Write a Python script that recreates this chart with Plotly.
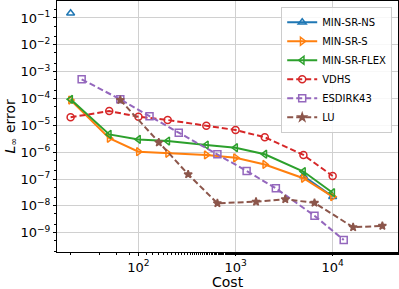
import numpy as np
import plotly.graph_objects as go

nan = float("nan")

base_cost = [20, 50, 100, 200, 500, 1000, 2000, 5000, 10000]
esdirk_cost = [26, 65, 130, 260, 650, 1300, 2600, 6500, 13000]
lu_cost = [65, 162, 325, 650, 1625, 3250, 6500, 16250, 32500]

min_sr_ns = [0.15, nan, nan, nan, nan, nan, nan, 1.3e-7, 2.2e-8]
min_sr_s = [8.8e-5, 3.3e-6, 1.04e-6, 9.1e-7, 7.9e-7, 6.2e-7, 3.5e-7, 1.07e-7, 2.2e-8]
min_sr_flex = [9.3e-5, 4.6e-6, 3.0e-6, 2.6e-6, 1.85e-6, 1.47e-6, 8.4e-7, 1.9e-7, 3.1e-8]
vdhs = [2.0e-5, 3.4e-5, 2.1e-5, 1.58e-5, 9.7e-6, 6.7e-6, 3.6e-6, 7.9e-7, 1.3e-7]
esdirk43 = [5.2e-4, 9.3e-5, 2.2e-5, 5.3e-6, 8.4e-7, 2.0e-7, 4.5e-8, 4.3e-9, 5.4e-10]
lu = [8.8e-5, 2.3e-6, 1.5e-7, 1.25e-8, 1.43e-8, 1.76e-8, 1.3e-8, 1.6e-9, 1.8e-9]

series = [
    ("MIN-SR-NS", base_cost, min_sr_ns, "#1f77b4", "triangle-up-open", "solid"),
    ("MIN-SR-S", base_cost, min_sr_s, "#ff7f0e", "triangle-right-open", "solid"),
    ("MIN-SR-FLEX", base_cost, min_sr_flex, "#2ca02c", "triangle-left-open", "solid"),
    ("VDHS", base_cost, vdhs, "#d62728", "circle-open", "6px,3px"),
    ("ESDIRK43", esdirk_cost, esdirk43, "#9467bd", "square-open", "6px,3px"),
    ("LU", lu_cost, lu, "#8c564b", "star", "6px,3px"),
]

xticks = [100, 1000, 10000]
xticktext = ["10<sup>2</sup>", "10<sup>3</sup>", "10<sup>4</sup>"]
yticks = [1e-1, 1e-2, 1e-3, 1e-4, 1e-5, 1e-6, 1e-7, 1e-8, 1e-9]
yticktext = ["10<sup>\u2212%d</sup>" % k for k in range(1, 10)]

fig = go.Figure()
for name, x, y, color, sym, dash in series:
    fig.add_trace(go.Scatter(
        x=x, y=y, name=name, mode="lines+markers",
        line=dict(color=color, width=2, dash=dash),
        marker=dict(symbol=sym, size=7 if sym != "star" else 6, color=color,
                    line=dict(color=color, width=1.5)),
    ))

axis_common = dict(
    type="log", showline=True, linecolor="black", linewidth=1, mirror=True,
    ticks="outside", ticklen=3, tickcolor="black", automargin=False,
    showgrid=True, gridcolor="#d0d0d0", gridwidth=1, zeroline=False,
    tickfont=dict(family="DejaVu Sans", size=13, color="black"),
)

fig.update_xaxes(
    **axis_common, range=[1.161, 4.673], tickvals=xticks, ticktext=xticktext,
    minor=dict(ticks="outside", ticklen=2, tickcolor="black", showgrid=False),
)
fig.update_yaxes(
    **axis_common, range=[-9.718, -0.367], tickvals=yticks, ticktext=yticktext,
    minor=dict(ticks="outside", ticklen=2, tickcolor="black", showgrid=False),
)

fig.add_annotation(text="Cost", xref="paper", yref="paper", x=0.5, y=0,
                   xanchor="center", yanchor="middle", yshift=-30, showarrow=False,
                   font=dict(family="DejaVu Sans", size=14, color="black"))
fig.add_annotation(text="<i>L</i><sub>\u221e</sub> error", xref="paper", yref="paper",
                   x=0, y=0.5, xanchor="center", yanchor="middle", xshift=-47,
                   textangle=-90, showarrow=False,
                   font=dict(family="DejaVu Sans", size=14, color="black"))

fig.update_layout(
    width=399, height=289,
    margin=dict(l=57, r=1, t=1, b=37),
    paper_bgcolor="white", plot_bgcolor="white",
    font=dict(family="DejaVu Sans", color="black"),
    legend=dict(
        x=0.983, y=0.977, xanchor="right", yanchor="top",
        bgcolor="rgba(255,255,255,0.85)", bordercolor="#cccccc", borderwidth=1,
        font=dict(family="DejaVu Sans", size=10, color="black"),
        tracegroupgap=0, itemwidth=30,
    ),
)

fig.write_html("out.html", config={"displayModeBar": False},
               post_script="document.body.style.margin='0';")
